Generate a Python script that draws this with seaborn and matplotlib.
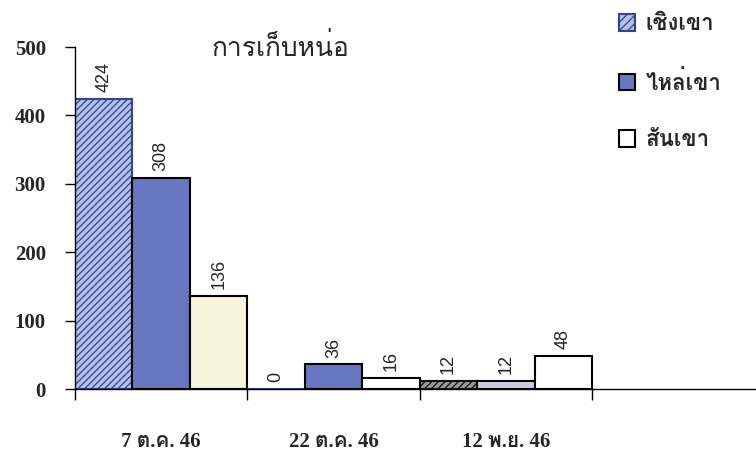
import matplotlib
matplotlib.use("Agg")
import matplotlib.pyplot as plt
from matplotlib import font_manager
from matplotlib.ft2font import FT2Font
from matplotlib.patches import Patch
import seaborn as sns
import pandas as pd

# ---- data ----
dates = ["7 ต.ค. 46", "22 ต.ค. 46", "12 พ.ย. 46"]
zones = ["เชิงเขา", "ไหล่เขา", "สันเขา"]
foothill = [424, 0, 12]
shoulder = [308, 36, 12]
ridge = [136, 16, 48]
title = "การเก็บหน่อ"

# ---- find fonts with Thai glyphs ----
thai_fonts = []
for f in font_manager.fontManager.ttflist:
    try:
        cm = FT2Font(f.fname).get_charmap()
        if 0x0E01 in cm and f.name not in thai_fonts:
            thai_fonts.append(f.name)
    except Exception:
        pass

sns.set_theme(style="white")
serif_fam = ["Liberation Serif"] + thai_fonts + ["DejaVu Sans"]
sans_fam = ["Liberation Sans"] + thai_fonts + ["DejaVu Sans"]
plt.rcParams["font.family"] = serif_fam
plt.rcParams["hatch.linewidth"] = 0.9

df = pd.DataFrame({
    "date": dates * 3,
    "zone": [zones[0]] * 3 + [zones[1]] * 3 + [zones[2]] * 3,
    "value": foothill + shoulder + ridge,
})

fig = plt.figure(figsize=(7.56, 4.61), dpi=100)
ax = fig.add_axes([0.0992, 0.156, 0.9008, 0.742])

palette = {zones[0]: "#b4c0ea", zones[1]: "#6878c0", zones[2]: "#f6f5dc"}
sns.barplot(data=df, x="date", y="value", hue="zone", order=dates,
            hue_order=zones, palette=palette, width=1.0, dodge=True,
            edgecolor="black", linewidth=1.5, saturation=1, legend=False,
            ax=ax)

# styling per series
for patch in ax.containers[0]:
    patch.set_hatch("/////")
    patch.set_edgecolor("#34448e")
for i, patch in enumerate(ax.containers[2]):
    if i > 0:
        patch.set_facecolor("white")
ax.containers[0][2].set_facecolor("#9a9a9a")
ax.containers[0][2].set_edgecolor("#111111")
ax.containers[1][2].set_facecolor("#c8cce0")

for cont in ax.containers:
    ax.bar_label(cont, labels=[f"{int(v)}" for v in cont.datavalues],
                 rotation=90, padding=5, fontsize=13, family=sans_fam)

ax.set_ylim(0, 500)
ax.set_xlim(-0.5, 3.45)
ax.set_yticks([0, 100, 200, 300, 400, 500])
ax.set_yticklabels(["0", "100", "200", "300", "400", "500"],
                   fontsize=15, fontweight="bold")
ax.set_xticks([0, 1, 2])
ax.set_xticklabels(dates, fontsize=15, fontweight="bold")
ax.set_xticks([-0.5, 0.5, 1.5, 2.5], minor=True)
ax.tick_params(axis="x", which="major", length=0, pad=31)
ax.tick_params(axis="x", which="minor", length=8, width=1, color="black",
               direction="out", bottom=True)
ax.tick_params(axis="y", length=7, width=1, color="black", direction="out",
               left=True, pad=14)
ax.set_xlabel("")
ax.set_ylabel("")
for s in ["top", "right"]:
    ax.spines[s].set_visible(False)
for s in ["left", "bottom"]:
    ax.spines[s].set_color("black")
    ax.spines[s].set_linewidth(1)
ax.grid(False)

ax.text(0.69, 500, title, ha="center", va="center", fontsize=19,
        family=serif_fam)

handles = [
    Patch(facecolor=palette[zones[0]], edgecolor="#34448e", hatch="////",
          linewidth=1.5),
    Patch(facecolor=palette[zones[1]], edgecolor="black", linewidth=1.5),
    Patch(facecolor="white", edgecolor="black", linewidth=1.5),
]
fig.legend(handles, zones, loc="upper left", bbox_to_anchor=(0.792, 1.012),
           frameon=False, handlelength=0.75, handleheight=0.75,
           handletextpad=0.45, labelspacing=1.6,
           prop={"size": 16, "weight": "bold", "family": serif_fam})

fig.savefig("out.png", dpi=100)
